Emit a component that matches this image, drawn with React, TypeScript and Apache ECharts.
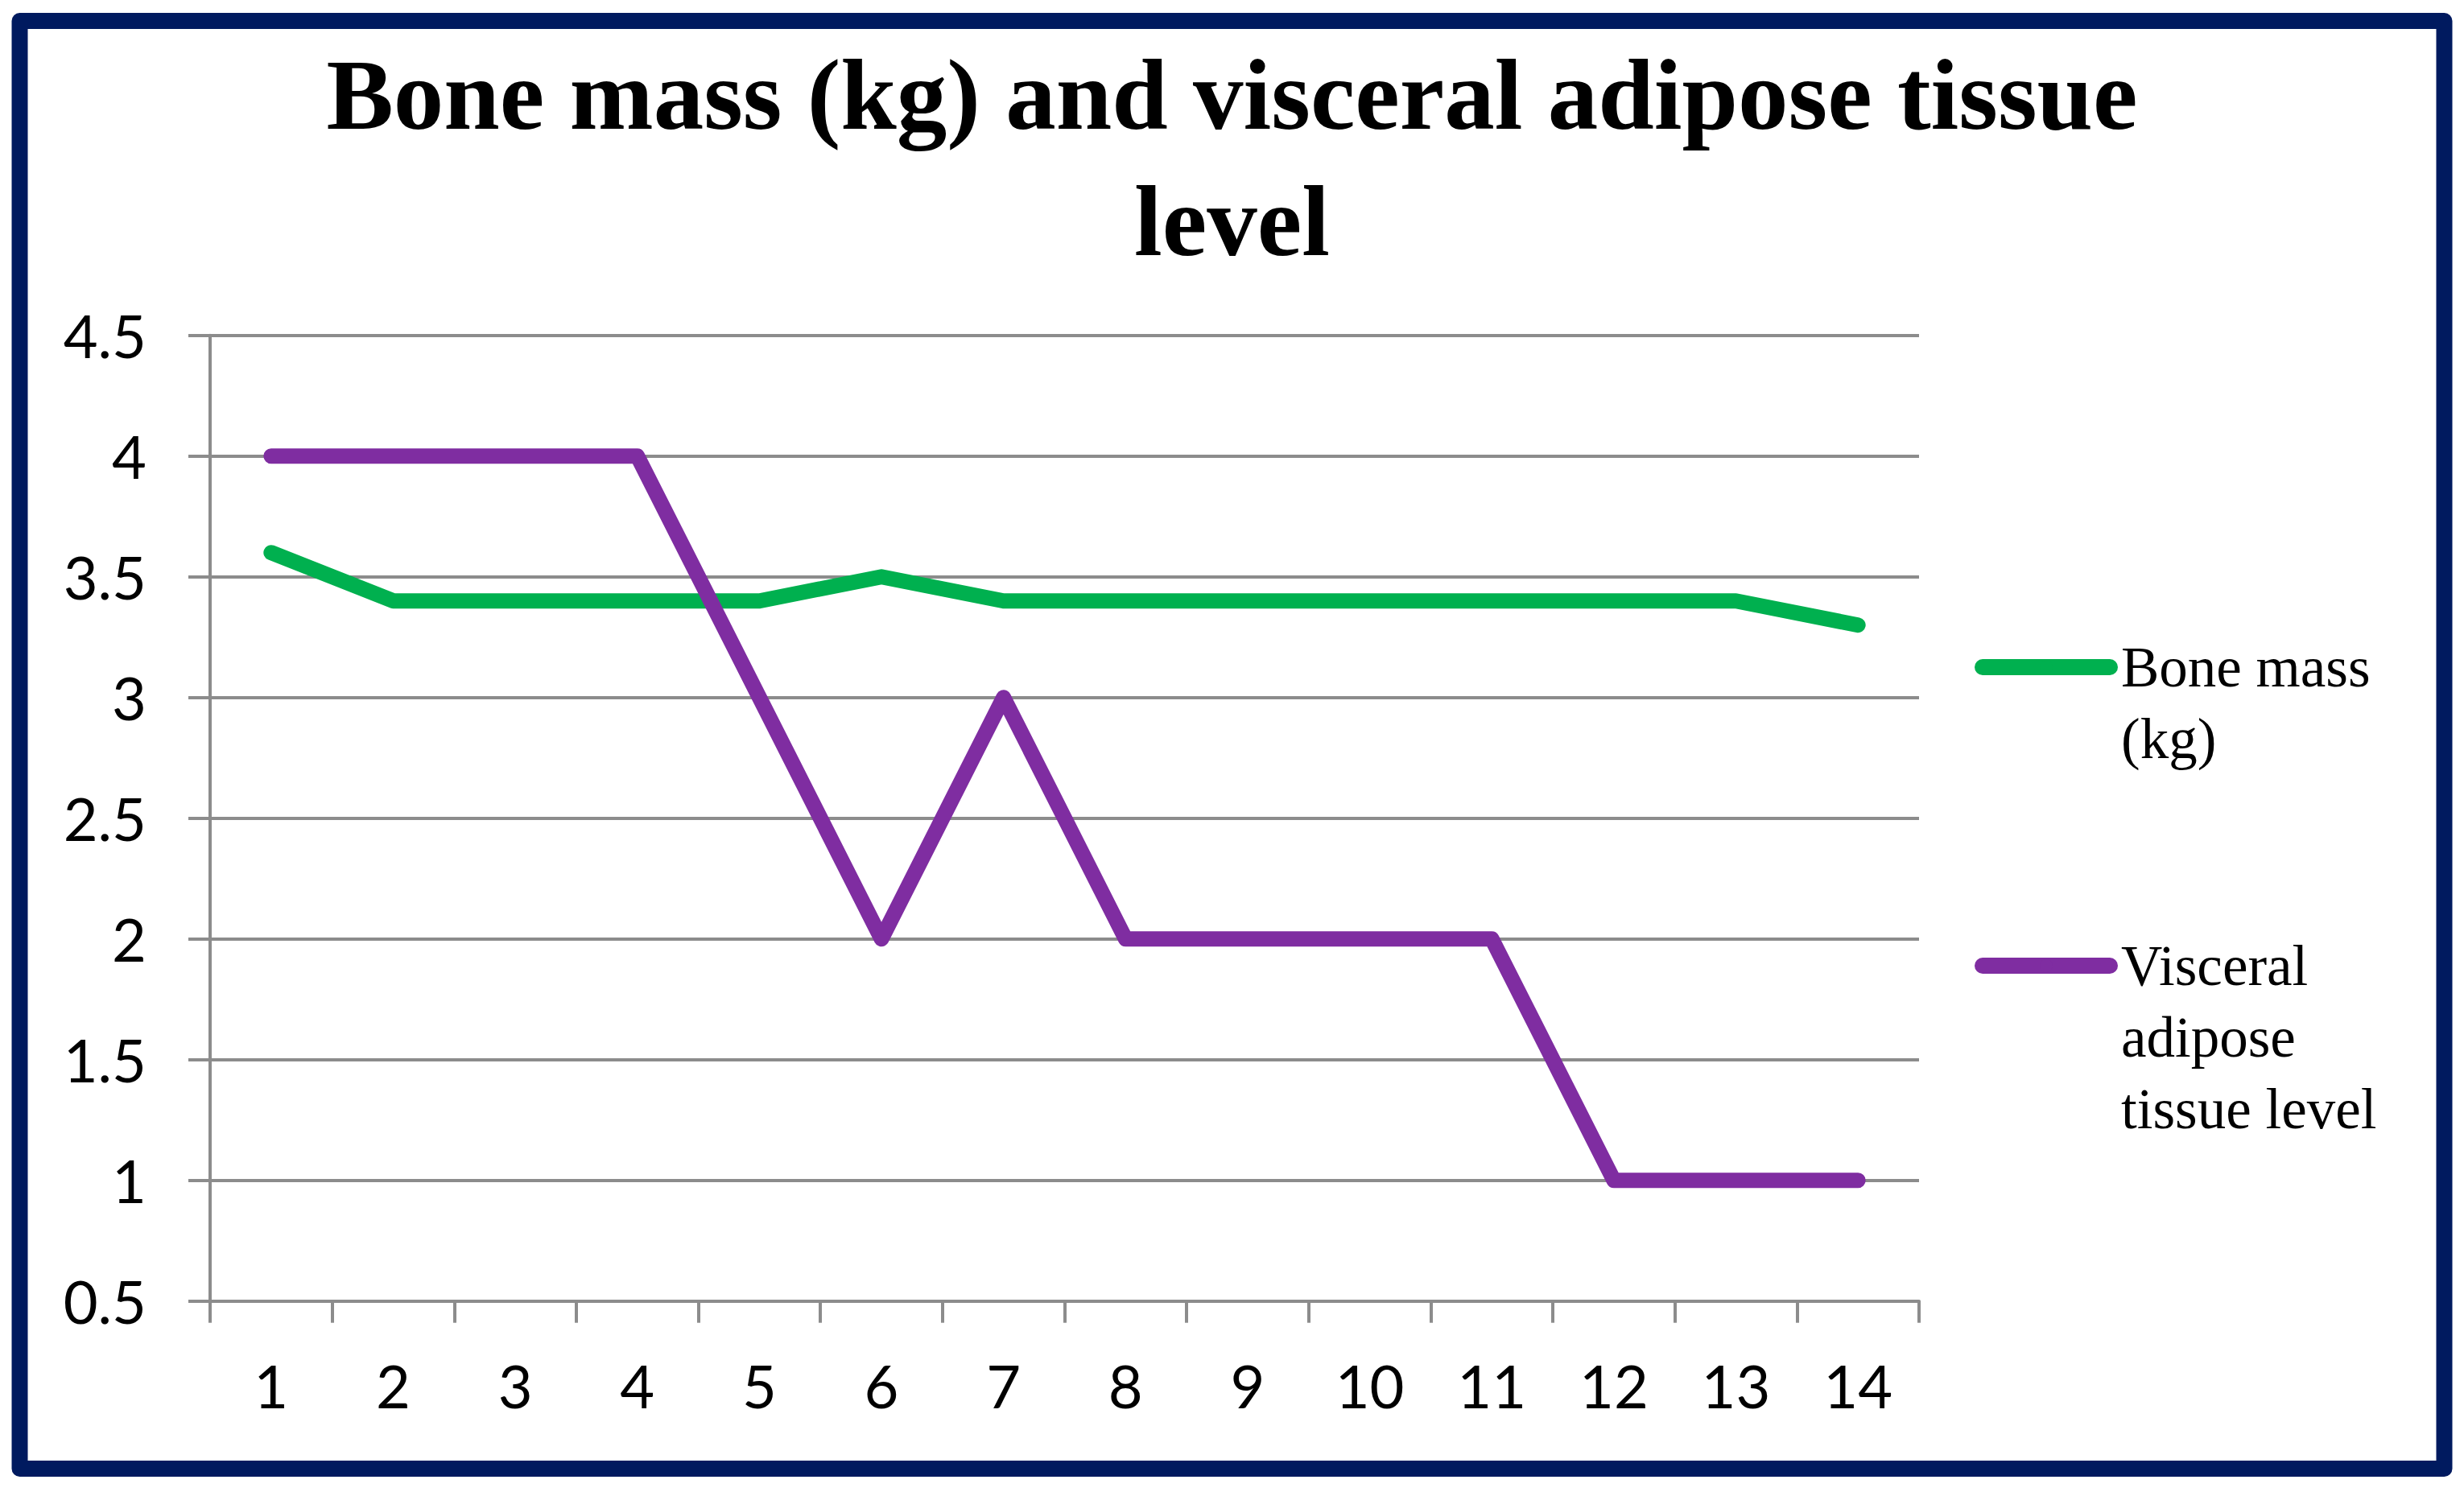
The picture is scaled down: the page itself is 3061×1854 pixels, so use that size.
import React, { useEffect, useRef } from "react";
import * as echarts from "echarts";

const categories = ["1", "2", "3", "4", "5", "6", "7", "8", "9", "10", "11", "12", "13", "14"];
const boneMass = [3.6, 3.4, 3.4, 3.4, 3.4, 3.5, 3.4, 3.4, 3.4, 3.4, 3.4, 3.4, 3.4, 3.3];
const visceral = [4, 4, 4, 4, 3, 2, 3, 2, 2, 2, 2, 1, 1, 1];
const seriesNames = ["Bone mass (kg)", "Visceral adipose tissue level"];
const legendLines = [["Bone mass", "(kg)"], ["Visceral", "adipose", "tissue level"]];
const titleText = "Bone mass (kg) and visceral adipose tissue\nlevel";

const GREEN = "#00B04F";
const PURPLE = "#7F2DA1";
const GRAY = "#8C8C8C";
const NAVY = "#001A5F";
const SERIF = "'Liberation Serif', 'DejaVu Serif', serif";
const SANS = "Lato, 'Open Sans', sans-serif";

export default function App() {
  const ref = useRef<HTMLDivElement>(null);
  useEffect(() => {
    if (!ref.current) return;
    const chart = echarts.init(ref.current, undefined, { renderer: "svg" });
    const LH = 89;
    const legendCommon = (name: string, lines: string[], centerY: number) => {
      const n = lines.length;
      // pad with empty lines above so the first text line is centred on the icon
      const label = new Array(n - 1).fill("").concat(lines).join("\n");
      return {
        data: [name],
        orient: "vertical",
        left: 2453,
        top: centerY - ((2 * n - 1) * LH) / 2,
        padding: 0,
        itemWidth: 158,
        itemHeight: 20,
        selectedMode: false,
        formatter: () => label,
        lineStyle: { width: 20, cap: "round" },
        textStyle: {
          fontFamily: SERIF,
          fontSize: 71,
          lineHeight: LH,
          color: "#000",
          padding: [0, 0, 0, 9],
        },
      };
    };
    chart.setOption({
      animation: false,
      backgroundColor: "#fff",
      title: {
        text: titleText,
        left: "center",
        top: 39,
        padding: 0,
        textStyle: {
          fontFamily: SERIF,
          fontWeight: "bold",
          fontSize: 125,
          lineHeight: 157,
          color: "#000",
        },
      },
      legend: [
        legendCommon(seriesNames[0], legendLines[0], 829),
        legendCommon(seriesNames[1], legendLines[1], 1200),
      ],
      grid: { left: 261, right: 677, top: 416.7, bottom: 237.3, containLabel: false },
      xAxis: {
        type: "category",
        data: categories,
        boundaryGap: true,
        axisLine: { show: true, lineStyle: { color: GRAY, width: 4 } },
        axisTick: { show: true, length: 27, lineStyle: { color: GRAY, width: 4 }, alignWithLabel: false },
        axisLabel: {
          margin: 68,
          fontFamily: SANS,
          fontSize: 74,
          lineHeight: 74,
          color: "#000",
          interval: 0,
        },
        splitLine: { show: false },
      },
      yAxis: {
        type: "value",
        min: 0.5,
        max: 4.5,
        interval: 0.5,
        axisLine: { show: true, lineStyle: { color: GRAY, width: 4 } },
        axisTick: { show: true, length: 27, lineStyle: { color: GRAY, width: 4 } },
        axisLabel: {
          margin: 79,
          fontFamily: SANS,
          fontSize: 74,
          lineHeight: 74,
          color: "#000",
        },
        splitLine: { show: true, lineStyle: { color: GRAY, width: 4 } },
      },
      series: [
        {
          name: seriesNames[0],
          type: "line",
          data: boneMass,
          symbol: "none",
          color: GREEN,
          lineStyle: { color: GREEN, width: 19, cap: "round", join: "round" },
        },
        {
          name: seriesNames[1],
          type: "line",
          data: visceral,
          symbol: "none",
          color: PURPLE,
          lineStyle: { color: PURPLE, width: 19, cap: "round", join: "round" },
        },
      ],
      graphic: [
        {
          type: "rect",
          shape: { x: 24.5, y: 26, width: 3012, height: 1799 },
          style: { fill: "none", stroke: NAVY, lineWidth: 20, lineJoin: "round" },
          silent: true,
        },
      ],
    });
    return () => chart.dispose();
  }, []);
  return (
    <div
      ref={ref}
      style={{ position: "fixed", left: 0, top: 0, width: 3061, height: 1854, background: "#fff" }}
    />
  );
}
